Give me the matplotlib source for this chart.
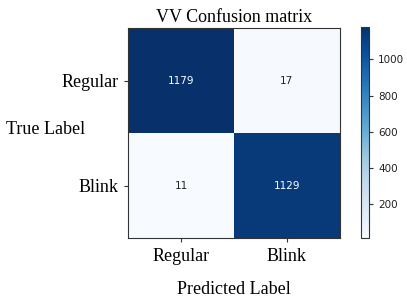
import matplotlib
matplotlib.use("Agg")
import matplotlib.pyplot as plt
import numpy as np

classes = ["Regular", "Blink"]
cm = np.array([[1179, 17],
               [11, 1129]])
cbar_ticks = [200, 400, 600, 800, 1000]

fig = plt.figure(figsize=(4.07, 3.03), dpi=100)
ax = fig.add_axes([0.3145, 0.2145, 0.5205, 0.693])
cax = fig.add_axes([0.887, 0.2145, 0.0197, 0.696])

im = ax.imshow(cm, cmap="Blues", interpolation="nearest", aspect="auto")
serif = "Liberation Serif"
ax.set_title("VV Confusion matrix", fontsize=13, family=serif, pad=4)
ax.set_xticks(range(len(classes)))
ax.set_yticks(range(len(classes)))
ax.set_xticklabels(classes, fontsize=13, family=serif)
ax.set_yticklabels(classes, fontsize=13, family=serif)
ax.tick_params(length=3, width=0.8, color="#333333", pad=4)
ax.set_xlabel("Predicted Label", fontsize=13, family=serif, labelpad=12)
ax.set_ylabel("True Label", fontsize=13, family=serif, rotation=0, labelpad=0)
ax.yaxis.set_label_coords(-0.39, 0.475)
for s in ax.spines.values():
    s.set_color("#333333")

thresh = cm.max() / 2.0
for i in range(cm.shape[0]):
    for j in range(cm.shape[1]):
        ax.text(j, i, str(cm[i, j]), ha="center", va="center", fontsize=7.5,
                color="white" if cm[i, j] > thresh else "#222222")

cb = fig.colorbar(im, cax=cax, ticks=cbar_ticks)
cb.ax.tick_params(labelsize=7.5, length=3, width=0.8, color="#333333", labelcolor="#222222")
cb.outline.set_edgecolor("#333333")

fig.savefig("out.png", dpi=100)
